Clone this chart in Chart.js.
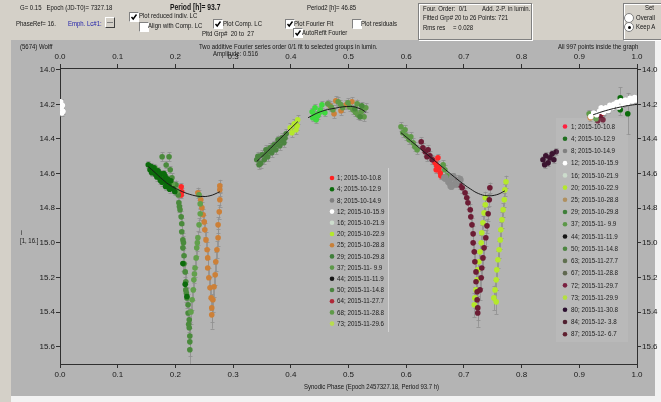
<!DOCTYPE html>
<html>
<head>
<meta charset="utf-8">
<script src="https://cdn.jsdelivr.net/npm/chart.js@4.4.0/dist/chart.umd.min.js"></script>
<style>
html, body { margin: 0; padding: 0; }
body { width: 661px; height: 402px; position: relative; overflow: hidden; background: #d4d0c8;
  font-family: "Liberation Sans", Arial, sans-serif; font-size: 8px; color: #151515; }
#panel { position: absolute; left: 11px; top: 40px; width: 644px; height: 356px; background: #b4b4b4; }
#wr { position: absolute; left: 655px; top: 40px; width: 6px; height: 362px; background: #f2f2f2; }
#wb { position: absolute; left: 11px; top: 396px; width: 650px; height: 6px; background: #f2f2f2; }
canvas { position: absolute; left: 0; top: 0; }
.t { position: absolute; white-space: nowrap; line-height: 9px; transform: scaleX(0.75); transform-origin: 0 0; z-index: 2; }
.cb { position: absolute; width: 8px; height: 8px; background: #fff; box-sizing: content-box;
  border-top: 1px solid #808080; border-left: 1px solid #808080; border-bottom: 1px solid #fff; border-right: 1px solid #fff; }
.cb svg { position: absolute; left: 0; top: 0; }
.rd { position: absolute; width: 8px; height: 8px; border-radius: 50%; background: #fff; border: 1px solid #808080; }
.rd.on::after { content: ""; position: absolute; left: 2.5px; top: 2.5px; width: 3px; height: 3px; border-radius: 50%; background: #000; }
.box { position: absolute; border: 1px solid #808080; box-shadow: 1px 1px 0 #fff inset, 1px 1px 0 #fff; }
.spin { position: absolute; left: 105px; top: 17px; width: 8px; height: 9px; background: #d4d0c8;
  border-top: 1px solid #fff; border-left: 1px solid #fff; border-bottom: 1px solid #404040; border-right: 1px solid #404040; }
.spin::after { content: ""; position: absolute; left: 1px; right: 1px; top: 4px; height: 1px; background: #808080; }
</style>
</head>
<body>
<div id="panel"></div>
<div id="wr"></div>
<div id="wb"></div>

<div class="t" style="left:20px;top:3px">G= 0.15&nbsp;&nbsp; Epoch (JD-T0)= 7327.18</div>
<div class="t" style="left:170px;top:3px;font-weight:bold;font-size:9px">Period [h]= 93.7</div>
<div class="t" style="left:307px;top:3px">Period2 [h]= 46.85</div>
<div class="t" style="left:16px;top:19px">PhaseRef= 16.</div>
<div class="t" style="left:68px;top:19px;color:#1c1ca8">Emph. Lc#1:</div>
<div class="spin"></div>

<div class="cb" style="left:129px;top:12px"><svg width="8" height="8"><polyline points="1.5,4 3.2,6 6.5,1.5" fill="none" stroke="#000" stroke-width="1.4"/></svg></div>
<div class="t" style="left:139px;top:11px">Plot reduced indiv. LC</div>
<div class="cb" style="left:139px;top:22px"></div>
<div class="t" style="left:148px;top:21px">Align with Comp. LC</div>
<div class="cb" style="left:213px;top:19px"><svg width="8" height="8"><polyline points="1.5,4 3.2,6 6.5,1.5" fill="none" stroke="#000" stroke-width="1.4"/></svg></div>
<div class="t" style="left:223px;top:19px">Plot Comp. LC</div>
<div class="t" style="left:202px;top:29px">Pltd Grp#&nbsp; 20 to&nbsp; 27</div>
<div class="cb" style="left:285px;top:19px"><svg width="8" height="8"><polyline points="1.5,4 3.2,6 6.5,1.5" fill="none" stroke="#000" stroke-width="1.4"/></svg></div>
<div class="t" style="left:294px;top:19px">Plot Fourier Fit</div>
<div class="cb" style="left:293px;top:28px"><svg width="8" height="8"><polyline points="1.5,4 3.2,6 6.5,1.5" fill="none" stroke="#000" stroke-width="1.4"/></svg></div>
<div class="t" style="left:302px;top:28px">AutoRefit Fourier</div>
<div class="cb" style="left:352px;top:19px"></div>
<div class="t" style="left:361px;top:19px">Plot residuals</div>

<div class="box" style="left:418px;top:3px;width:112px;height:35px"></div>
<div class="t" style="left:423px;top:4px">Four. Order:&nbsp; 0/1</div>
<div class="t" style="left:482px;top:4px">Add. 2-P. in lumin.</div>
<div class="t" style="left:423px;top:13px">Fitted Grp# 20 to 26 Points: 721</div>
<div class="t" style="left:423px;top:23px">Rms res</div>
<div class="t" style="left:453px;top:23px">= 0.028</div>

<div class="box" style="left:623px;top:3px;width:50px;height:35px"></div>
<div class="t" style="left:645px;top:3px">Set</div>
<div class="rd" style="left:624px;top:13px"></div>
<div class="t" style="left:636px;top:13px">Overall</div>
<div class="rd on" style="left:624px;top:22px"></div>
<div class="t" style="left:636px;top:22px">Keep A</div>

<div class="t" style="left:20px;top:42px">(5674) Wolff</div>
<div class="t" style="left:199px;top:42px">Two additive Fourier series order 0/1 fit to selected groups in lumin.</div>
<div class="t" style="left:213px;top:49px">Amplitude: 0.516</div>
<div class="t" style="left:558px;top:42px">All 997 points inside the graph</div>
<div class="t" style="left:21px;top:228px">i</div>
<div class="t" style="left:20px;top:236px">[1, 16.]</div>
<div class="t" style="left:304px;top:382px">Synodic Phase (Epoch 2457327.18, Period 93.7 h)</div>

<canvas id="c" width="661" height="402" style="width:661px;height:402px"></canvas>

<script>
const FONT = '"Liberation Sans", Arial, sans-serif';

const phaseTicks = [0, 0.1, 0.2, 0.3, 0.4, 0.5, 0.6, 0.7, 0.8, 0.9, 1.0];
const magTicks = [14.0, 14.2, 14.4, 14.6, 14.8, 15.0, 15.2, 15.4, 15.6];

// [phase, mag, err]
const g4 = [[0.153,14.549,0.02],[0.156,14.578,0.02],[0.159,14.595,0.02],[0.163,14.566,0.02],[0.166,14.607,0.02],
  [0.170,14.584,0.02],[0.173,14.624,0.02],[0.175,14.601,0.02],[0.179,14.636,0.02],[0.182,14.613,0.02],
  [0.185,14.653,0.02],[0.189,14.670,0.02],[0.192,14.642,0.02],[0.196,14.688,0.02],[0.199,14.705,0.02],
  [0.161,14.590,0.02],[0.168,14.620,0.02],[0.177,14.650,0.02],[0.158,14.560,0.02],[0.165,14.585,0.02],
  [0.171,14.605,0.02],[0.180,14.600,0.02],[0.186,14.630,0.02],[0.174,14.640,0.02],[0.190,14.690,0.02],
  [0.183,14.675,0.02],[0.213,15.120,0.04],[0.217,15.240,0.04],
  [0.220,15.310,0.05],[0.971,14.162,0.06],[0.971,14.231,0.03],[0.984,14.254,0.12]];
const g29 = [[0.177,14.503,0.025],[0.189,14.503,0.025],[0.184,14.550,0.02],[0.191,14.578,0.02],[0.194,14.624,0.025],
  [0.201,14.665,0.025],[0.205,14.723,0.03],[0.206,14.769,0.03],[0.208,14.809,0.03],[0.210,14.850,0.035],
  [0.211,14.890,0.035],[0.211,14.936,0.04],[0.213,14.983,0.04],[0.213,15.029,0.04],[0.215,15.075,0.045],
  [0.215,15.121,0.045],[0.217,15.168,0.05],[0.218,15.225,0.05],[0.218,15.272,0.05],[0.220,15.318,0.06],
  [0.222,15.358,0.06],[0.222,15.405,0.06],[0.224,15.445,0.07],[0.224,15.491,0.07],[0.225,15.538,0.08],
  [0.225,15.572,0.08],[0.225,15.618,0.09],[0.511,14.225,0.02],[0.523,14.208,0.02],[0.520,14.272,0.02],
  [0.207,14.79,0.03],[0.214,15.00,0.04],[0.219,15.29,0.05],[0.223,15.47,0.07]];
const g37 = [[0.227,15.399,0.07],[0.229,15.329,0.06],[0.231,15.272,0.06],[0.232,15.214,0.05],[0.234,15.145,0.05],
  [0.236,15.087,0.05],[0.237,15.029,0.045],[0.239,14.971,0.04],[0.241,14.896,0.04],[0.243,14.832,0.035],
  [0.243,14.775,0.03],[0.241,14.723,0.03],[0.165,14.570,0.02],[0.172,14.600,0.02],[0.180,14.620,0.02],
  [0.187,14.640,0.02],[0.195,14.660,0.02],[0.198,14.69,0.02],[0.203,14.70,0.025],[0.233,15.18,0.05],
  [0.238,15.00,0.045]];
const g50 = [[0.341,14.520,0.025],[0.345,14.549,0.025],[0.350,14.491,0.025],[0.354,14.520,0.025],[0.357,14.462,0.025],
  [0.360,14.503,0.025],[0.364,14.451,0.025],[0.367,14.480,0.025],[0.371,14.434,0.025],[0.374,14.462,0.025],
  [0.378,14.405,0.025],[0.381,14.439,0.025],[0.385,14.393,0.025],[0.388,14.422,0.025],[0.392,14.370,0.025],
  [0.343,14.50,0.025],[0.348,14.54,0.025],[0.356,14.49,0.025],[0.362,14.47,0.025],[0.369,14.45,0.025],
  [0.376,14.43,0.025],[0.383,14.41,0.025],[0.390,14.395,0.025]];
const g68 = [[0.464,14.197,0.025],[0.473,14.231,0.025],[0.482,14.185,0.025],[0.490,14.220,0.025],[0.499,14.191,0.025],
  [0.508,14.231,0.025],[0.515,14.197,0.025],[0.522,14.243,0.025],[0.527,14.272,0.025],[0.530,14.220,0.025],
  [0.516,14.260,0.025],[0.470,14.215,0.025],[0.486,14.200,0.025],[0.502,14.215,0.025],[0.512,14.245,0.025],
  [0.525,14.230,0.025],[0.591,14.329,0.025],[0.594,14.364,0.025],[0.600,14.382,0.025],[0.598,14.347,0.025],
  [0.605,14.405,0.025],[0.608,14.387,0.025],[0.612,14.422,0.025],[0.615,14.445,0.025],[0.619,14.462,0.025],
  [0.667,14.578,0.025],[0.671,14.613,0.025],[0.664,14.549,0.025],[0.917,14.254,0.02],[0.929,14.283,0.02]];
const g16 = [[0.437,14.243,0.02],[0.442,14.220,0.02],[0.447,14.266,0.02],[0.451,14.231,0.02],[0.454,14.202,0.02],
  [0.444,14.289,0.02],[0.459,14.249,0.02],[0.438,14.277,0.02],[0.449,14.250,0.02],[0.441,14.260,0.02]];
const g25 = [[0.239,14.711,0.03],[0.244,14.751,0.03],[0.246,14.798,0.035],[0.248,14.838,0.035],[0.250,14.879,0.04],
  [0.251,14.925,0.04],[0.253,14.983,0.045],[0.255,15.040,0.045],[0.256,15.087,0.05],[0.256,15.145,0.05],
  [0.258,15.202,0.055],[0.260,15.260,0.06],[0.262,15.318,0.07],[0.263,15.376,0.08],[0.263,15.416,0.08],
  [0.265,15.329,0.07],[0.267,15.254,0.06],[0.269,15.185,0.06],[0.270,15.110,0.055],[0.272,15.040,0.05],
  [0.274,14.971,0.05],[0.274,14.896,0.045],[0.276,14.821,0.04],[0.277,14.751,0.04],[0.277,14.694,0.035],
  [0.277,14.671,0.035],[0.468,14.208,0.025],[0.478,14.179,0.025],[0.487,14.237,0.025],[0.496,14.202,0.025],
  [0.475,14.254,0.025],[0.506,14.185,0.025],[0.919,14.277,0.02],[0.925,14.260,0.02]];
const g1 = [[0.210,14.676,0.02],[0.211,14.705,0.02],[0.210,14.723,0.02],[0.646,14.520,0.02],[0.650,14.538,0.02],
  [0.653,14.555,0.02],[0.652,14.578,0.02],[0.657,14.566,0.02],[0.659,14.595,0.02],[0.655,14.509,0.02],
  [0.660,14.613,0.02],[0.938,14.254,0.02]];
const g8 = [[0.667,14.624,0.02],[0.674,14.647,0.02],[0.681,14.618,0.02],[0.686,14.659,0.02],[0.693,14.636,0.02],
  [0.678,14.671,0.02]];
const g72 = [[0.626,14.416,0.025],[0.629,14.451,0.025],[0.633,14.474,0.025],[0.638,14.462,0.025],[0.641,14.497,0.025],
  [0.636,14.503,0.025],[0.645,14.520,0.025],[0.690,14.636,0.025],[0.693,14.665,0.025],[0.697,14.682,0.03],
  [0.702,14.711,0.03],[0.705,14.740,0.03],[0.707,14.769,0.035],[0.711,14.809,0.035],[0.712,14.850,0.04],
  [0.714,14.896,0.04],[0.716,14.948,0.045],[0.716,15.000,0.045],[0.718,15.052,0.05],[0.719,15.110,0.05],
  [0.721,15.168,0.055],[0.721,15.225,0.06],[0.723,15.283,0.06],[0.723,15.329,0.07],[0.724,15.376,0.07],
  [0.724,15.405,0.08],[0.728,15.272,0.06],[0.730,15.202,0.06],[0.731,15.145,0.055],[0.733,15.087,0.05],
  [0.735,15.029,0.05],[0.738,14.971,0.045],[0.740,14.902,0.04],[0.742,14.832,0.04],[0.744,14.751,0.035],
  [0.745,14.682,0.03],[0.936,14.272,0.02],[0.941,14.289,0.02],[0.932,14.295,0.02]];
const g73 = [[0.399,14.335,0.025],[0.402,14.364,0.025],[0.406,14.312,0.025],[0.409,14.347,0.025],[0.412,14.289,0.025],
  [0.411,14.324,0.025],[0.718,15.358,0.07],[0.719,15.318,0.06],[0.721,15.272,0.06],[0.723,15.214,0.055],
  [0.724,15.156,0.05],[0.726,15.110,0.05],[0.728,15.052,0.05],[0.730,15.000,0.045],[0.731,14.942,0.045],
  [0.733,14.884,0.04],[0.735,14.827,0.04],[0.737,14.780,0.035],[0.737,14.740,0.035],[0.773,14.647,0.035],
  [0.771,14.694,0.035],[0.770,14.751,0.04],[0.768,14.809,0.04],[0.766,14.867,0.045],[0.764,14.925,0.045],
  [0.763,14.983,0.05],[0.761,15.040,0.05],[0.759,15.098,0.05],[0.757,15.156,0.055],[0.756,15.214,0.06],
  [0.754,15.272,0.06],[0.752,15.318,0.07],[0.756,15.341,0.07]];
const g12 = [[0.001,14.185,0.015],[0.004,14.205,0.015],[0.002,14.220,0.015],[0.005,14.240,0.015],[0.003,14.250,0.015],
  [0.920,14.270,0.015],[0.925,14.250,0.015],[0.930,14.260,0.015],[0.935,14.240,0.015],[0.938,14.220,0.015],
  [0.942,14.245,0.015],[0.946,14.220,0.015],[0.950,14.235,0.015],[0.953,14.205,0.015],[0.957,14.220,0.015],
  [0.960,14.200,0.015],[0.965,14.190,0.015],[0.968,14.215,0.015],[0.972,14.180,0.015],[0.976,14.200,0.015],
  [0.980,14.175,0.015],[0.984,14.190,0.015],[0.988,14.165,0.015],[0.992,14.180,0.015],[0.996,14.160,0.015],
  [0.999,14.175,0.015]];
const g84 = [[0.837,14.520,0.02],[0.842,14.497,0.02],[0.846,14.538,0.02],[0.849,14.509,0.02],[0.853,14.486,0.02],
  [0.856,14.520,0.02],[0.860,14.474,0.02],[0.840,14.549,0.02]];

// Fourier fit pieces [phase, mag]
const fitLeft = [[0.153,14.56],[0.165,14.595],[0.178,14.635],[0.191,14.668],[0.208,14.698],[0.225,14.72],[0.243,14.732],[0.260,14.728],[0.277,14.705]];
const fitRise = [[0.341,14.53],[0.360,14.47],[0.378,14.41],[0.395,14.355],[0.412,14.30]];
const fitTop = [[0.430,14.277],[0.451,14.243],[0.477,14.222],[0.503,14.212],[0.520,14.225],[0.530,14.245]];
const fitFall = [[0.591,14.364],[0.624,14.455],[0.659,14.552],[0.693,14.645],[0.711,14.688],[0.725,14.715],[0.740,14.728],[0.757,14.722],[0.771,14.70]];
const fitEnd = [[0.924,14.26],[0.945,14.237],[0.965,14.22],[0.985,14.207],[1.0,14.20]];

const legendA = ['1; 2015-10-10.8','4; 2015-10-12.9','8; 2015-10-14.9','12; 2015-10-15.9','16; 2015-10-21.9',
  '20; 2015-10-22.9','25; 2015-10-28.8','29; 2015-10-29.8','37; 2015-11- 9.9','44; 2015-11-11.9',
  '50; 2015-11-14.8','64; 2015-11-27.7','68; 2015-11-28.8','73; 2015-11-29.6'];
const legendAColors = ['#ff2020','#0b6b0b','#808080','#ffffff','#ccdccc','#b4e82c','#c88038','#3f7f3a',
  '#5c9848','#151515','#4c8540','#b02838','#5f9a48','#b8dc50'];
const legendB = ['1; 2015-10-10.8','4; 2015-10-12.9','8; 2015-10-14.9','12; 2015-10-15.9','16; 2015-10-21.9',
  '20; 2015-10-22.9','25; 2015-10-28.8','29; 2015-10-29.8','37; 2015-11- 9.9','44; 2015-11-11.9',
  '50; 2015-11-14.8','63; 2015-11-27.7','67; 2015-11-28.8','72; 2015-11-29.7','73; 2015-11-29.9',
  '80; 2015-11-30.8','84; 2015-12- 3.8','87; 2015-12- 6.7'];
const legendBColors = ['#ff2040','#1f6f1f','#808080','#ffffff','#ccdccc','#b4e82c','#b09060','#3f7f3a',
  '#5c9848','#151515','#4c8540','#607050','#606850','#7a2040','#b4e040','#2c1030','#502030','#602030'];

function grp(rows, color, r) {
  return {
    data: rows.map(p => ({x: p[0], y: p[1]})),
    errs: rows.map(p => p[2]),
    backgroundColor: color, pointRadius: r, pointHoverRadius: r, borderWidth: 0, order: 2
  };
}
function fit(rows) {
  return {
    data: rows.map(p => ({x: p[0], y: p[1]})),
    showLine: true, borderColor: '#1a1a1a', borderWidth: 1, pointRadius: 0, tension: 0.4, fill: false, order: 0
  };
}

const errorBars = {
  id: 'errorBars',
  beforeDatasetsDraw(chart) {
    const {ctx, chartArea: a} = chart;
    const ys = chart.scales.y;
    ctx.save();
    ctx.beginPath(); ctx.rect(a.left, a.top, a.width, a.height); ctx.clip();
    ctx.strokeStyle = 'rgba(145,145,145,0.85)';
    ctx.lineWidth = 1;
    chart.data.datasets.forEach((ds, i) => {
      if (!ds.errs) return;
      chart.getDatasetMeta(i).data.forEach((pt, j) => {
        const v = ds.data[j].y, e = ds.errs[j];
        const y1 = ys.getPixelForValue(v - e), y2 = ys.getPixelForValue(v + e);
        const x = Math.round(pt.x) + 0.5;
        ctx.beginPath();
        ctx.moveTo(x, y1); ctx.lineTo(x, y2);
        ctx.moveTo(x - 2, Math.round(y1) + 0.5); ctx.lineTo(x + 2, Math.round(y1) + 0.5);
        ctx.moveTo(x - 2, Math.round(y2) + 0.5); ctx.lineTo(x + 2, Math.round(y2) + 0.5);
        ctx.stroke();
      });
    });
    ctx.restore();
  }
};

const groupLegends = {
  id: 'groupLegends',
  afterDatasetsDraw(chart) {
    const ctx = chart.ctx;
    ctx.save();
    ctx.fillStyle = 'rgba(255,255,255,0.08)';
    ctx.fillRect(556, 118, 72, 224);
    ctx.strokeStyle = '#d2d2d2';
    ctx.beginPath(); ctx.moveTo(388.5, 168); ctx.lineTo(388.5, 332); ctx.stroke();
    ctx.font = '8px ' + FONT;
    ctx.textBaseline = 'middle';
    const draw = (labels, colors, mx, tx, y0, dy) => {
      labels.forEach((s, i) => {
        const y = y0 + i * dy;
        ctx.fillStyle = colors[i];
        ctx.beginPath(); ctx.arc(mx, y, 2.3, 0, Math.PI * 2); ctx.fill();
        ctx.fillStyle = '#1a1a1a';
        ctx.save();
        ctx.translate(tx, y);
        ctx.scale(0.78, 1);
        ctx.fillText(s, 0, 0);
        ctx.restore();
      });
    };
    draw(legendA, legendAColors, 332, 337, 178, 11.2);
    draw(legendB, legendBColors, 565, 571, 126.5, 12.22);
    ctx.restore();
  }
};

Chart.defaults.font.family = FONT;
Chart.defaults.font.size = 8;
Chart.defaults.color = '#1a1a1a';

const axisX = (pos, h) => ({
  type: 'linear', axis: 'x', position: pos, min: 0, max: 1,
  afterBuildTicks: s => { s.ticks = phaseTicks.map(v => ({value: v})); },
  afterFit: s => { s.height = h; },
  ticks: {callback: v => v.toFixed(1), maxRotation: 0, autoSkip: false, padding: 2},
  grid: {drawOnChartArea: false, tickLength: 4, color: '#303030'},
  border: {color: '#303030'}
});
const axisY = (pos, w) => ({
  type: 'linear', axis: 'y', position: pos, reverse: true, min: 13.99, max: 15.70,
  afterBuildTicks: s => { s.ticks = magTicks.map(v => ({value: v})); },
  afterFit: s => { s.width = w; },
  ticks: {callback: v => v.toFixed(1), autoSkip: false, padding: 1},
  grid: {drawOnChartArea: false, tickLength: 4, color: '#303030'},
  border: {color: '#303030'}
});

new Chart(document.getElementById('c'), {
  type: 'scatter',
  data: {
    datasets: [
      fit(fitLeft), fit(fitRise), fit(fitTop), fit(fitFall), fit(fitEnd),
      grp(g12, '#ffffff', 2.8),
      grp(g8, '#8c8c8c', 3.8),
      grp(g4, '#0b6b0b', 2.8),
      grp(g37, '#62a04c', 2.8),
      grp(g29, '#4a8a3c', 2.8),
      grp(g50, '#4c8540', 2.8),
      grp(g68, '#5f9a48', 2.8),
      grp(g16, '#40d840', 2.8),
      grp(g25, '#cc8038', 2.8),
      grp(g72, '#6c1c34', 2.8),
      grp(g73, '#b4e82c', 2.8),
      grp(g84, '#3c1430', 2.8),
      grp(g1, '#ff2828', 2.8)
    ]
  },
  options: {
    responsive: false,
    animation: false,
    layout: {padding: 0},
    plugins: {legend: {display: false}, tooltip: {enabled: false}},
    scales: {
      x: axisX('bottom', 38),
      x2: axisX('top', 68),
      y: axisY('left', 60),
      y2: axisY('right', 24)
    }
  },
  plugins: [errorBars, groupLegends]
});
</script>
</body>
</html>
